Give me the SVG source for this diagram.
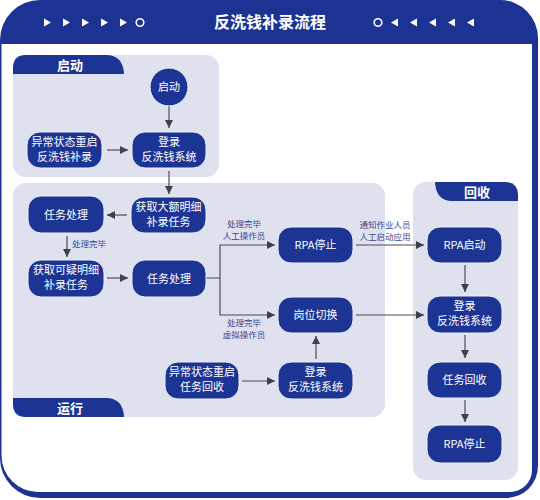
<svg xmlns="http://www.w3.org/2000/svg" width="540" height="500" viewBox="0 0 540 500">
<defs>
<style>
.node{fill:#1c3594;stroke:#eef0f8;stroke-width:1}
.nt{fill:#ffffff;font-family:"Noto Sans CJK SC","Noto Sans",sans-serif;font-size:11px;text-anchor:middle}
.tab{fill:#1c3594}
.tt{fill:#ffffff;font-family:"Noto Sans CJK SC","Noto Sans",sans-serif;font-size:13px;font-weight:bold;text-anchor:middle}
.panel{fill:#dfe1ef}
.lbl{fill:#3a4890;font-family:"Noto Sans CJK SC","Noto Sans",sans-serif;font-size:8.5px;text-anchor:middle}
.con{fill:none;stroke:#4a4b55;stroke-width:1.2}
.deco{fill:#ffffff}
</style>
<marker id="ah" markerUnits="userSpaceOnUse" markerWidth="8" markerHeight="8" refX="8" refY="4" orient="auto">
<path d="M0,0 L8,4 L0,8 Z" fill="#3f404a"/>
</marker>
</defs>

<!-- frame -->
<g id="frame">
<path fill="#1c3394" d="M40,0 H500 A38,38 0 0 1 538,38 V466 A32,32 0 0 1 506,498 H40 A40,40 0 0 1 0,458 V40 A40,40 0 0 1 40,0 Z"/>
<path fill="#ffffff" d="M1.5,44 H532 V470 A22,22 0 0 1 510,492 H38 A36.5,36.5 0 0 1 1.5,455.5 Z"/>
<text x="270" y="28" fill="#ffffff" font-family="'Noto Sans CJK SC','Noto Sans',sans-serif" font-size="16" font-weight="bold" text-anchor="middle">反洗钱补录流程</text>
<g class="deco">
<path d="M44,18.5 L51,22.5 L44,26.5 Z"/>
<path d="M63,18.5 L70,22.5 L63,26.5 Z"/>
<path d="M82,18.5 L89,22.5 L82,26.5 Z"/>
<path d="M101,18.5 L108,22.5 L101,26.5 Z"/>
<path d="M120,18.5 L127,22.5 L120,26.5 Z"/>
<path d="M398,18.5 L391,22.5 L398,26.5 Z"/>
<path d="M417,18.5 L410,22.5 L417,26.5 Z"/>
<path d="M436,18.5 L429,22.5 L436,26.5 Z"/>
<path d="M455,18.5 L448,22.5 L455,26.5 Z"/>
<path d="M474,18.5 L467,22.5 L474,26.5 Z"/>
</g>
<circle cx="140" cy="22.5" r="3.8" fill="none" stroke="#ffffff" stroke-width="1.6"/>
<circle cx="378" cy="22.5" r="3.8" fill="none" stroke="#ffffff" stroke-width="1.6"/>
</g>

<!-- panels -->
<g id="panel-start">
<rect class="panel" x="13" y="55" width="206" height="122" rx="13"/>
<path class="tab" d="M13,74 V68 Q13,55 26,55 H106 Q123,55 124,74 Z"/>
<text class="tt" x="70" y="69.5">启动</text>
</g>
<g id="panel-run">
<rect class="panel" x="13" y="183" width="372" height="234" rx="13"/>
<path class="tab" d="M13,398 H106 Q123,398 124,417 H26 Q13,417 13,404 Z"/>
<text class="tt" x="70" y="412.5">运行</text>
</g>
<g id="panel-recycle">
<rect class="panel" x="413" y="182" width="105" height="298" rx="13"/>
<path class="tab" d="M435,182 H505 Q518,182 518,195 V201 H452 Q436,201 435,182 Z"/>
<text class="tt" x="477" y="196.5">回收</text>
</g>

<!-- connectors -->
<g id="connectors">
<line class="con" x1="169" y1="106" x2="169" y2="128" marker-end="url(#ah)"/>
<line class="con" x1="107" y1="150" x2="128" y2="150" marker-end="url(#ah)"/>
<line class="con" x1="169" y1="171" x2="169" y2="194" marker-end="url(#ah)"/>
<line class="con" x1="127" y1="215" x2="107" y2="215" marker-end="url(#ah)"/>
<line class="con" x1="67" y1="236" x2="67" y2="257" marker-end="url(#ah)"/>
<line class="con" x1="107" y1="278" x2="128" y2="278" marker-end="url(#ah)"/>
<path class="con" d="M206,278 H220 V245 H275" marker-end="url(#ah)"/>
<path class="con" d="M220,278 V315 H275" marker-end="url(#ah)"/>
<line class="con" x1="242" y1="381" x2="275" y2="381" marker-end="url(#ah)"/>
<line class="con" x1="316" y1="359" x2="316" y2="336" marker-end="url(#ah)"/>
<line class="con" x1="356" y1="245" x2="424" y2="245" marker-end="url(#ah)"/>
<line class="con" x1="356" y1="315" x2="424" y2="315" marker-end="url(#ah)"/>
<line class="con" x1="465" y1="265" x2="465" y2="292" marker-end="url(#ah)"/>
<line class="con" x1="465" y1="335" x2="465" y2="358" marker-end="url(#ah)"/>
<line class="con" x1="465" y1="400" x2="465" y2="422" marker-end="url(#ah)"/>
<text class="lbl" x="72" y="246.5" style="text-anchor:start">处理完毕</text>
<text class="lbl" x="244" y="227">处理完毕</text>
<text class="lbl" x="244" y="239">人工操作员</text>
<text class="lbl" x="244" y="326">处理完毕</text>
<text class="lbl" x="244" y="338">虚拟操作员</text>
<text class="lbl" x="385" y="228">通知作业人员</text>
<text class="lbl" x="385" y="240">人工启动应用</text>
</g>

<!-- nodes -->
<g id="n-start">
<circle class="node" cx="169" cy="87" r="19"/>
<text class="nt" x="169" y="91">启动</text>
</g>
<g id="n-login1">
<rect class="node" x="132" y="132" width="74" height="36" rx="13"/>
<text class="nt" x="169" y="146">登录</text>
<text class="nt" x="169" y="161">反洗钱系统</text>
</g>
<g id="n-restart1">
<rect class="node" x="27" y="132" width="75" height="36" rx="13"/>
<text class="nt" x="64.5" y="146">异常状态重启</text>
<text class="nt" x="64.5" y="161">反洗钱补录</text>
</g>
<g id="n-fetch-large">
<rect class="node" x="131" y="197" width="75" height="36" rx="13"/>
<text class="nt" x="168.5" y="211">获取大额明细</text>
<text class="nt" x="168.5" y="226">补录任务</text>
</g>
<g id="n-task1">
<rect class="node" x="28" y="196" width="76" height="37" rx="13"/>
<text class="nt" x="66" y="218.5">任务处理</text>
</g>
<g id="n-fetch-susp">
<rect class="node" x="28" y="260" width="76" height="37" rx="13"/>
<text class="nt" x="66" y="274">获取可疑明细</text>
<text class="nt" x="66" y="289">补录任务</text>
</g>
<g id="n-task2">
<rect class="node" x="132" y="260" width="74" height="37" rx="13"/>
<text class="nt" x="169" y="282.5">任务处理</text>
</g>
<g id="n-rpa-stop1">
<rect class="node" x="278" y="227" width="75" height="36" rx="13"/>
<text class="nt" x="315.5" y="249">RPA停止</text>
</g>
<g id="n-switch">
<rect class="node" x="278" y="297" width="75" height="36" rx="13"/>
<text class="nt" x="315.5" y="319">岗位切换</text>
</g>
<g id="n-restart2">
<rect class="node" x="165" y="362" width="74" height="37" rx="13"/>
<text class="nt" x="202" y="376">异常状态重启</text>
<text class="nt" x="202" y="391">任务回收</text>
</g>
<g id="n-login2">
<rect class="node" x="278" y="362" width="75" height="37" rx="13"/>
<text class="nt" x="315.5" y="376">登录</text>
<text class="nt" x="315.5" y="391">反洗钱系统</text>
</g>
<g id="n-rpa-start">
<rect class="node" x="427" y="227" width="75" height="36" rx="13"/>
<text class="nt" x="464.5" y="249">RPA启动</text>
</g>
<g id="n-login3">
<rect class="node" x="427" y="296" width="75" height="37" rx="13"/>
<text class="nt" x="464.5" y="310">登录</text>
<text class="nt" x="464.5" y="325">反洗钱系统</text>
</g>
<g id="n-recycle">
<rect class="node" x="427" y="362" width="75" height="36" rx="13"/>
<text class="nt" x="464.5" y="384">任务回收</text>
</g>
<g id="n-rpa-stop2">
<rect class="node" x="427" y="425" width="75" height="38" rx="13"/>
<text class="nt" x="464.5" y="448">RPA停止</text>
</g>
</svg>
